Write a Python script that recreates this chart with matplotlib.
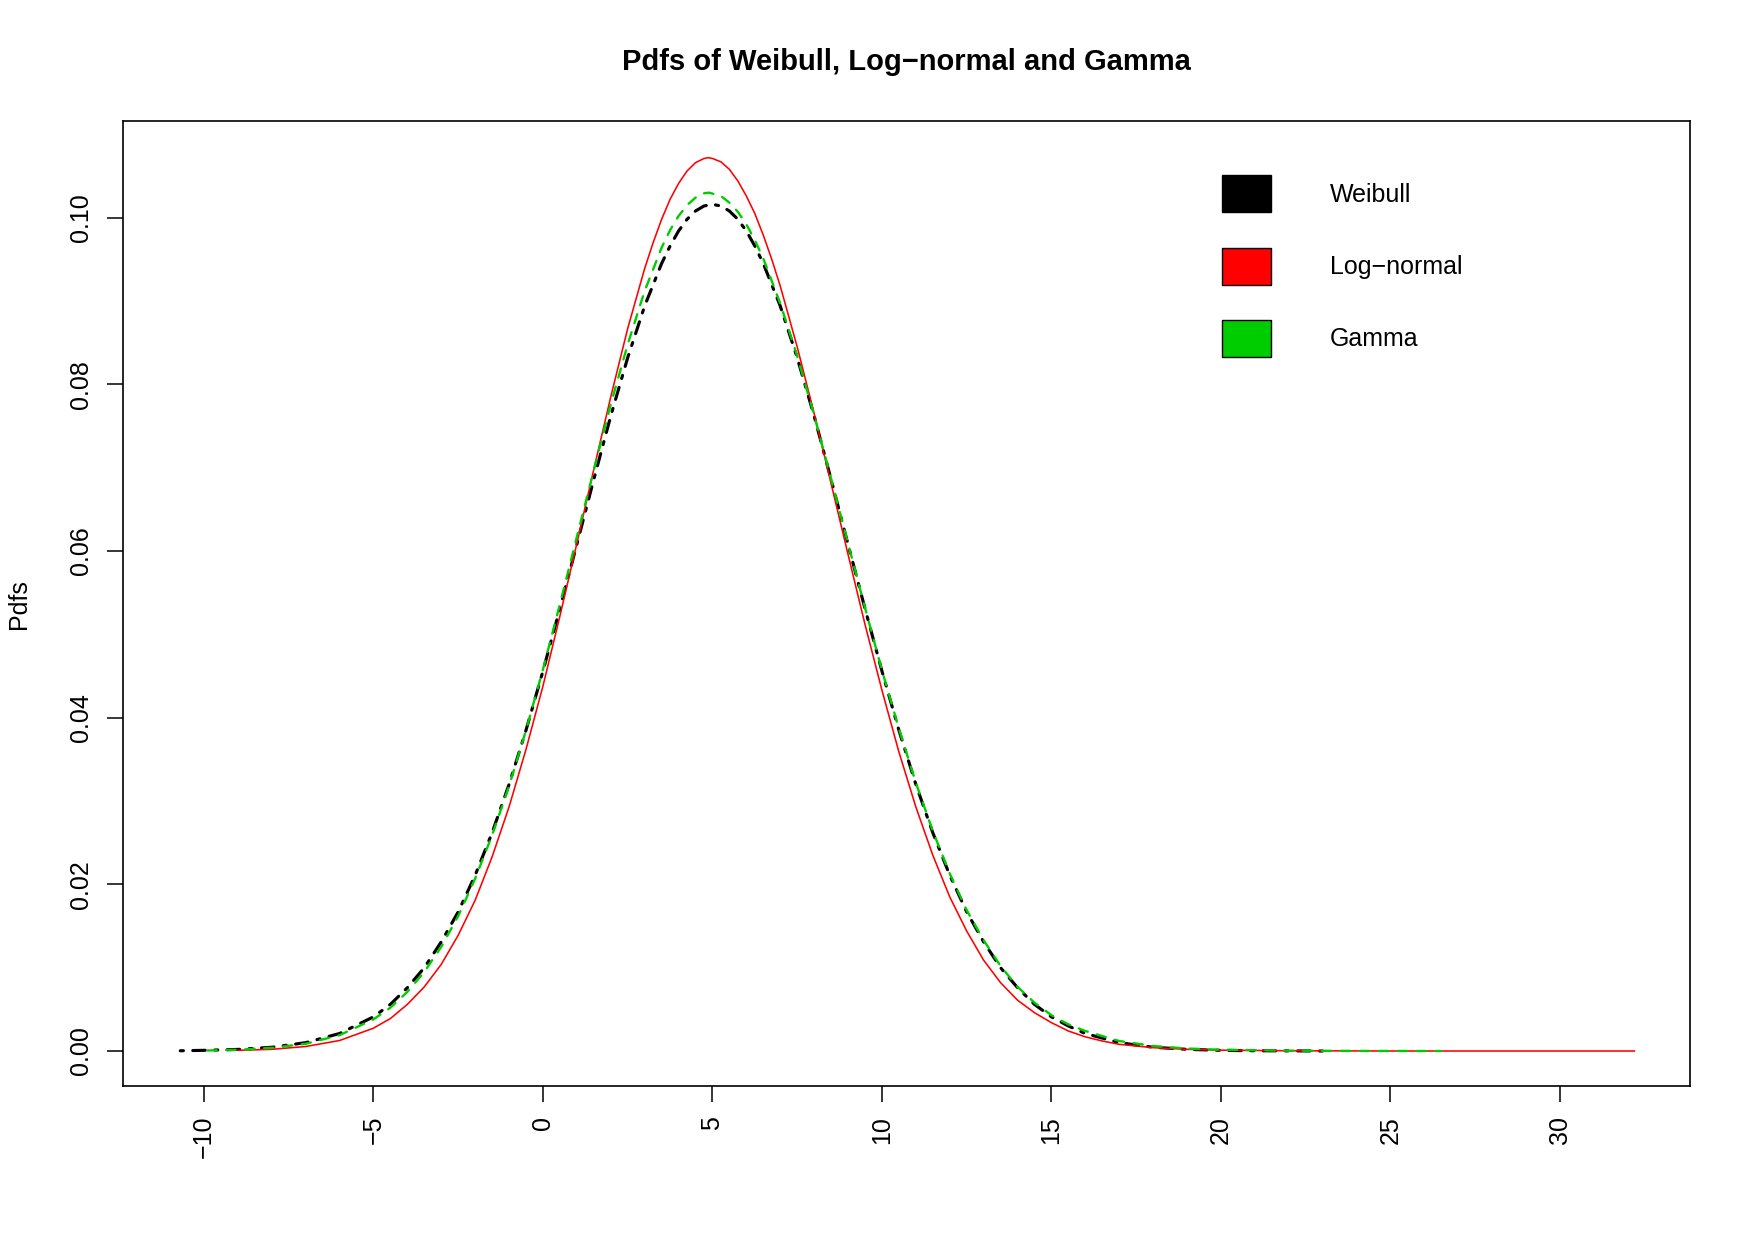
import numpy as np
import matplotlib
matplotlib.use("Agg")
import matplotlib.pyplot as plt
from matplotlib.patches import Patch

plt.rcParams['font.family'] = ['Liberation Sans', 'DejaVu Sans']

# values
x_weib = [-10.7, -10, -9, -8, -7, -6, -5, -4.5, -4, -3.5, -3, -2.5, -2, -1.5, -1, -0.5, 0, 0.5, 1,
          1.5, 2, 2.5, 3, 3.5, 3.75, 4, 4.25, 4.5, 4.75, 5, 5.25, 5.5, 5.75, 6, 6.25, 6.5, 7, 7.5,
          8, 8.5, 9, 9.5, 10, 10.5, 11, 11.5, 12, 12.5, 13, 13.5, 14, 14.5, 15, 15.5, 16, 17, 18,
          19, 20, 21, 23]
y_weib = [0.00003, 0.00008, 0.00019, 0.00045, 0.0010, 0.0021, 0.0041, 0.0056, 0.0076, 0.0100,
          0.0131, 0.0167, 0.0211, 0.0262, 0.0320, 0.0385, 0.0456, 0.0531, 0.0608, 0.0686, 0.0762,
          0.0832, 0.0894, 0.0945, 0.0966, 0.0984, 0.0998, 0.1008, 0.1014, 0.1016, 0.1014, 0.1008,
          0.0998, 0.0984, 0.0966, 0.0945, 0.0894, 0.0832, 0.0762, 0.0686, 0.0608, 0.0531, 0.0456,
          0.0385, 0.0320, 0.0262, 0.0211, 0.0167, 0.0131, 0.0100, 0.0076, 0.0056, 0.0041, 0.0030,
          0.0021, 0.0010, 0.00045, 0.0002, 0.00008, 0.00003, 0.0]

x_lnorm = [-9, -8, -7, -6, -5, -4.5, -4, -3.5, -3, -2.5, -2, -1.5, -1, -0.5, 0, 0.5, 1, 1.5, 2,
           2.5, 3, 3.25, 3.5, 3.75, 4, 4.25, 4.5, 4.75, 4.88, 5, 5.25, 5.5, 5.75, 6, 6.25, 6.5,
           6.75, 7, 7.5, 8, 8.5, 9, 9.5, 10, 10.5, 11, 11.5, 12, 12.5, 13, 13.5, 14, 14.5, 15,
           15.5, 16, 16.5, 17, 18, 19, 20, 22, 25, 28, 32.2]
y_lnorm = [0.00008, 0.0002, 0.00054, 0.00126, 0.00274, 0.0039, 0.0056, 0.0077, 0.0104, 0.0139,
           0.0181, 0.0233, 0.0293, 0.0362, 0.0438, 0.0522, 0.0609, 0.0698, 0.0785, 0.0867, 0.0939,
           0.0970, 0.0998, 0.1022, 0.1041, 0.1056, 0.1066, 0.1071, 0.1072, 0.1071, 0.1067, 0.1058,
           0.1044, 0.1026, 0.1005, 0.0979, 0.0950, 0.0918, 0.0845, 0.0765, 0.0681, 0.0596, 0.0512,
           0.0433, 0.0359, 0.0293, 0.0235, 0.0185, 0.0144, 0.0109, 0.0082, 0.0061, 0.0046, 0.0034,
           0.0024, 0.0017, 0.0012, 0.0008, 0.0004, 0.0002, 0.0001, 0.00003, 0.0, 0.0, 0.0]

x_gam = [-9.9, -9, -8, -7, -6, -5, -4.5, -4, -3.5, -3, -2.5, -2, -1.5, -1, -0.5, 0, 0.5, 1, 1.5,
         2, 2.5, 3, 3.5, 3.75, 4, 4.25, 4.5, 4.7, 4.9, 5.25, 5.5, 5.75, 6, 6.25, 6.5, 7, 7.5, 8,
         8.5, 9, 9.5, 10, 10.5, 11, 11.5, 12, 12.5, 13, 13.5, 14, 14.5, 15, 15.5, 16, 17, 18, 19,
         20, 22, 24, 26.5]
y_gam = [0.00006, 0.00015, 0.00038, 0.00087, 0.0019, 0.0038, 0.0052, 0.0071, 0.0095, 0.0125,
         0.0162, 0.0207, 0.0259, 0.0318, 0.0385, 0.0458, 0.0536, 0.0617, 0.0697, 0.0776, 0.0848,
         0.0912, 0.0964, 0.0985, 0.1002, 0.1015, 0.1024, 0.1029, 0.1030, 0.1026, 0.1018, 0.1007,
         0.0992, 0.0973, 0.0951, 0.0897, 0.0834, 0.0763, 0.0687, 0.0609, 0.0532, 0.0457, 0.0387,
         0.0322, 0.0264, 0.0213, 0.0169, 0.0133, 0.0102, 0.0077, 0.0058, 0.0043, 0.0032, 0.0024,
         0.0012, 0.0006, 0.0003, 0.00015, 0.00004, 0.00001, 0.0]

labels = ["Weibull", "Log\u2212normal", "Gamma"]
colors = ["black", "#ff0000", "#00cd00"]

W, H = 1753, 1240
fig = plt.figure(figsize=(W / 100, H / 100), dpi=100)
# plot box in pixels: left 123, right 1690, top 121, bottom 1086
ax = fig.add_axes([123 / W, 1 - 1086 / H, (1690 - 123) / W, (1086 - 121) / H])

ax.plot(x_weib, y_weib, color=colors[0], lw=2.25, linestyle=(0, (1, 3, 4, 3)),
        dash_capstyle='round', solid_capstyle='round')
ax.plot(x_lnorm, y_lnorm, color=colors[1], lw=1.15)
ax.plot(x_gam, y_gam, color=colors[2], lw=1.7, linestyle=(0, (4, 4)), dash_capstyle='round')

ax.set_xlim(-12.39, 33.84)
ax.set_ylim(-0.0042, 0.1116)
ax.set_xticks(np.arange(-10, 31, 5))
ax.set_yticks(np.arange(0, 0.101, 0.02))
ax.set_yticklabels(["0.00", "0.02", "0.04", "0.06", "0.08", "0.10"])
ax.tick_params(axis='both', labelsize=18, length=11.5, width=1.1, pad=10, direction='out')
plt.setp(ax.get_xticklabels(), rotation=90)
plt.setp(ax.get_yticklabels(), rotation=90, va='center')
for s in ax.spines.values():
    s.set_linewidth(1.2)

fig.text(906.5 / W, 1 - 61.5 / H, "Pdfs of Weibull, Log\u2212normal and Gamma",
         ha='center', va='center', fontsize=21, fontweight='bold')
fig.text(19 / W, 1 - 604 / H, "Pdfs", rotation=90, ha='center', va='center', fontsize=18)

# legend: filled boxes, no frame
handles = [Patch(facecolor=c, edgecolor='black', linewidth=1.0) for c in colors]
fig.legend(handles, labels, loc='upper left', bbox_to_anchor=(1222 / W, 1 - 175 / H),
           bbox_transform=fig.transFigure, frameon=False, fontsize=18,
           handlelength=1.96, handleheight=1.9, handletextpad=2.36,
           labelspacing=1.42, borderpad=0, borderaxespad=0)

fig.savefig("out.png", dpi=100)
